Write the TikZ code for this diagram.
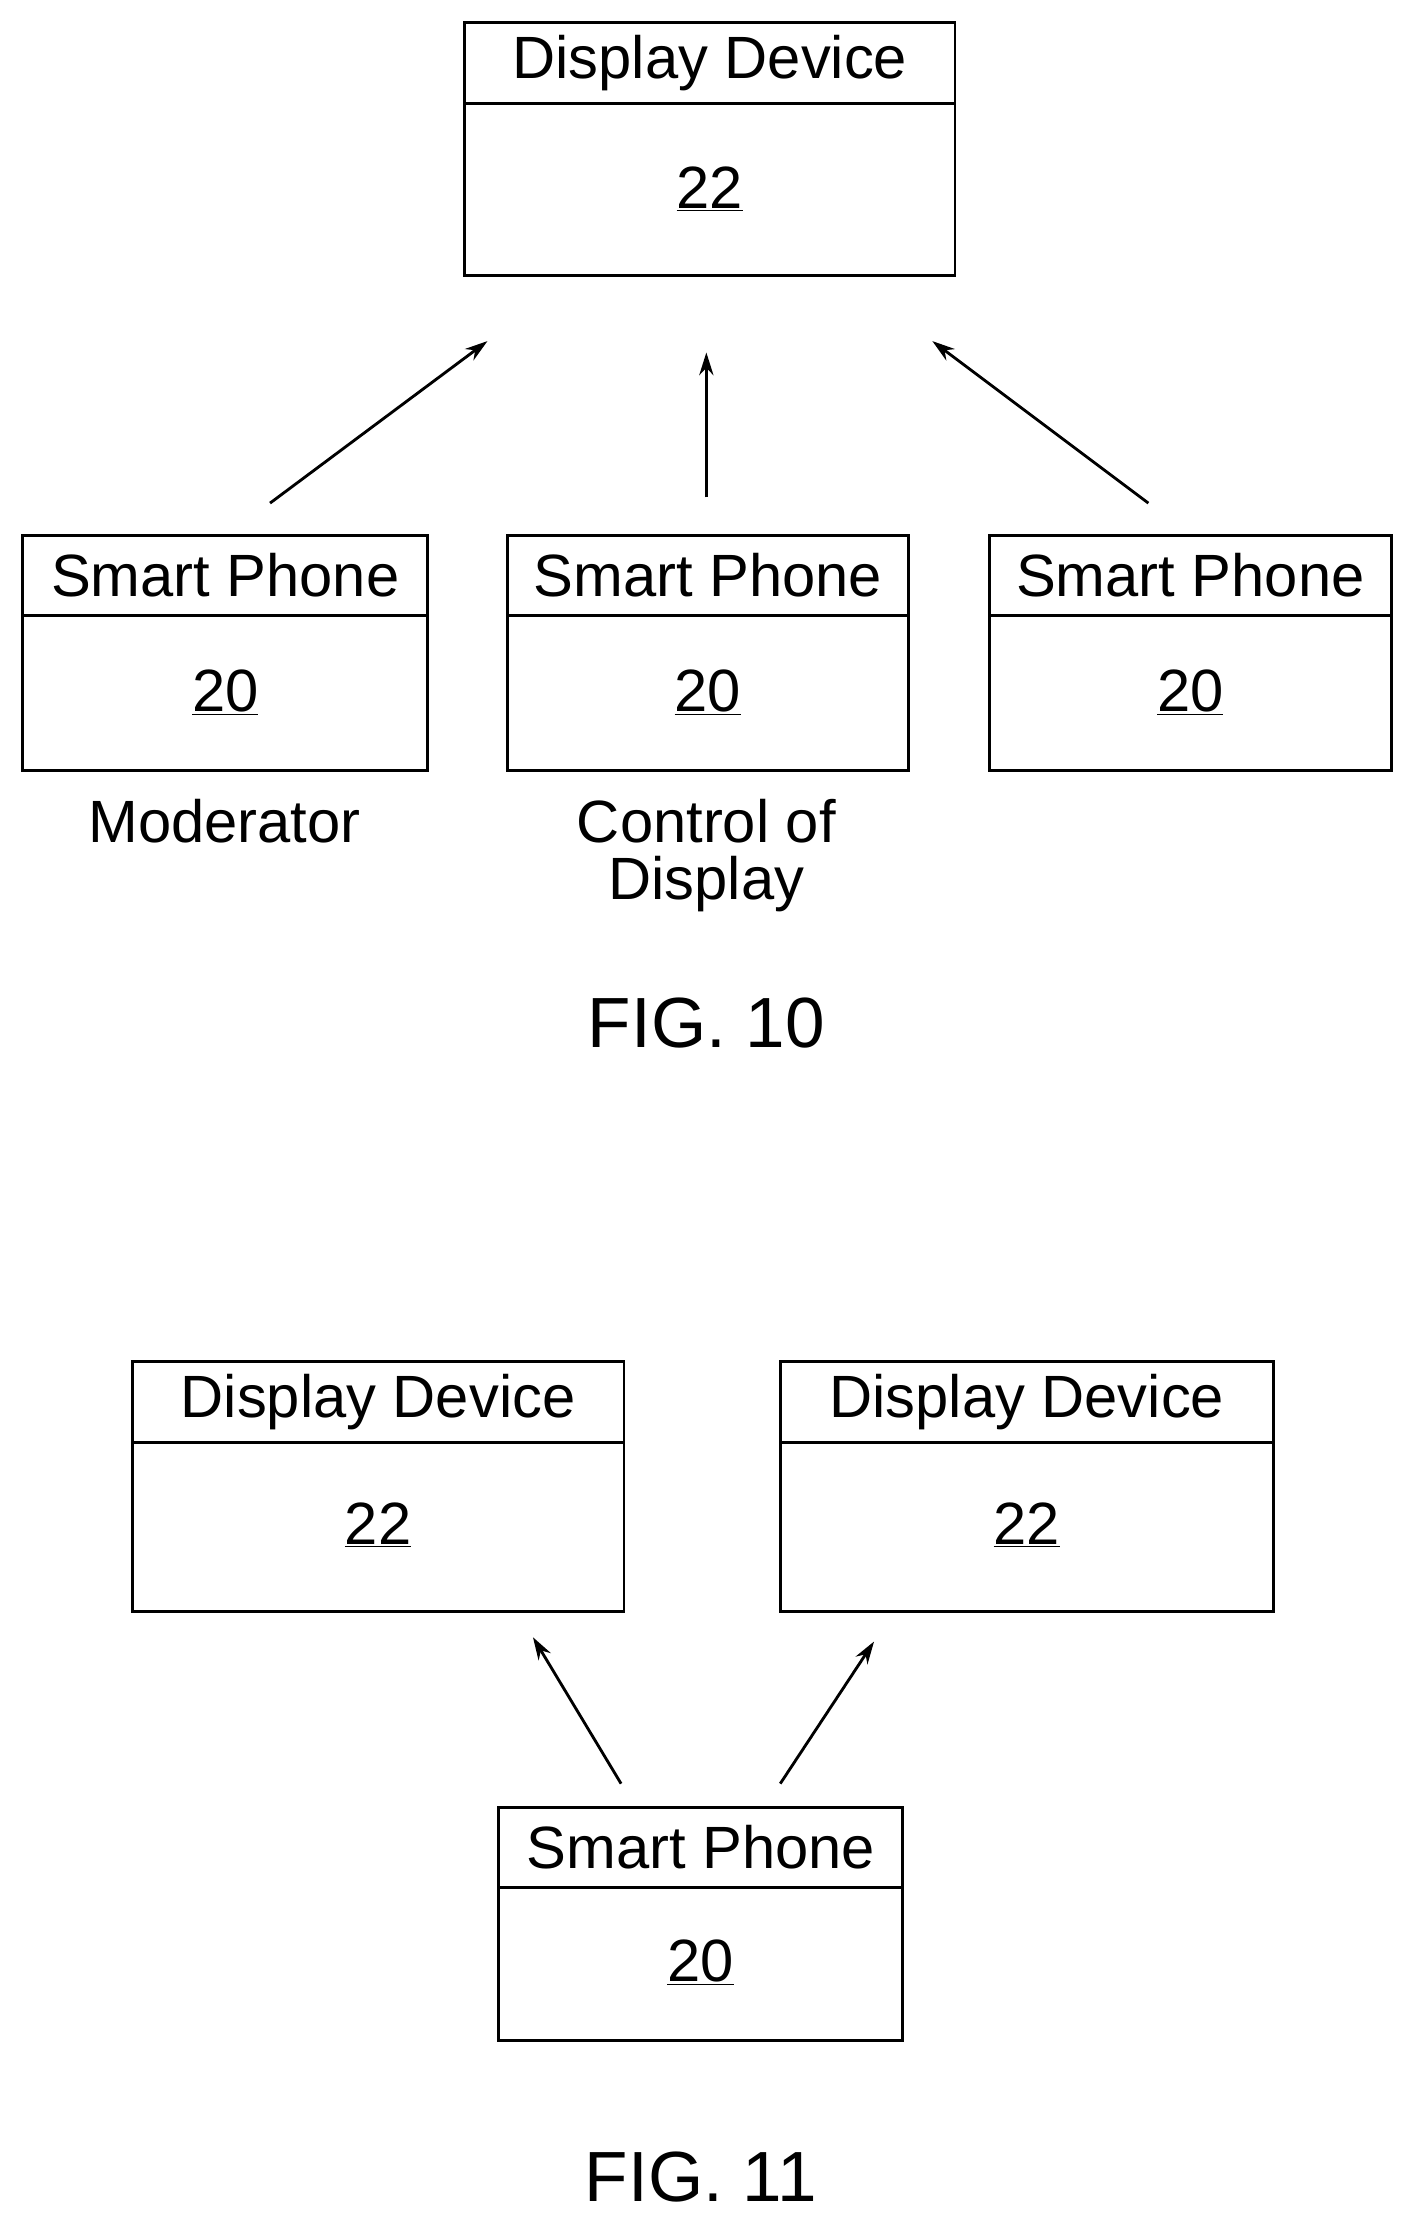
\documentclass[tikz,border=0pt]{standalone}
\usepackage{fontspec}
\usetikzlibrary{arrows.meta}
\setmainfont{Liberation Sans}
\begin{document}
\begin{tikzpicture}[x=1pt,y=-1pt,
  bx/.style={draw,line width=2pt},
  lab/.style={font=\fontsize{42}{46}\selectfont},
  fig/.style={font=\fontsize{50}{54}\selectfont},
  arr/.style={line width=2pt,-{Stealth[length=16pt,width=10pt]}}]
\useasboundingbox (0,0) rectangle (1000,1574);
\newcommand{\devbox}[7]{% name,x1,y1,x2,y2,ydiv,title
  \draw[bx] (#2,#3) rectangle (#4,#5);
  \draw[bx] (#2,#6) -- (#4,#6);
  \node[lab] (#1t) at ({(#2+#4)/2},{(#3+#6)/2}) {#7};
}
\devbox{d}{327}{16}{672}{194}{73}{Display Device}
\node[lab] (dn) at (499.5,133) {\underline{22}};
\devbox{pa}{16}{377}{301}{542}{433}{Smart Phone}
\node[lab] (pan) at (158.5,487) {\underline{20}};
\devbox{pb}{357}{377}{639}{542}{433}{Smart Phone}
\node[lab] (pbn) at (498,487) {\underline{20}};
\devbox{pc}{696}{377}{979}{542}{433}{Smart Phone}
\node[lab] (pcn) at (837.5,487) {\underline{20}};
\node[lab] (mod) at (158,578) {Moderator};
\node[lab,align=center] (ctl) at (497,602) {Control of\\[-6pt]Display};
\node[fig] (f10) at (497,720) {FIG. 10};
\coordinate (a1s) at (190,354); \coordinate (a1e) at (343,240);
\coordinate (a2s) at (497,350); \coordinate (a2e) at (497,248);
\coordinate (a3s) at (808,354); \coordinate (a3e) at (656,240);
\draw[arr] (a1s)--(a1e); \draw[arr] (a2s)--(a2e); \draw[arr] (a3s)--(a3e);
\devbox{e}{93}{958}{439}{1134}{1015}{Display Device}
\node[lab] (en) at (266,1073) {\underline{22}};
\devbox{f}{549}{958}{896}{1134}{1015}{Display Device}
\node[lab] (fn) at (722.5,1073) {\underline{22}};
\devbox{p}{351}{1272}{635}{1436}{1328}{Smart Phone}
\node[lab] (pn) at (493,1381) {\underline{20}};
\coordinate (b1s) at (437,1255); \coordinate (b1e) at (375,1152);
\coordinate (b2s) at (549,1255); \coordinate (b2e) at (615,1155);
\draw[arr] (b1s)--(b1e); \draw[arr] (b2s)--(b2e);
\node[fig] (f11) at (493,1532) {FIG. 11};
\end{tikzpicture}
\end{document}
